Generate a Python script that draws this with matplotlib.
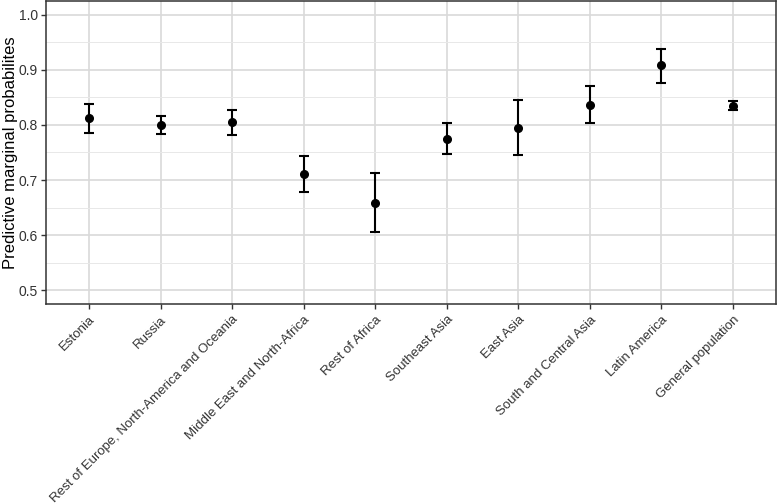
import numpy as np
import matplotlib
matplotlib.use("Agg")
import matplotlib.pyplot as plt

regions = ["Estonia", "Russia", "Rest of Europe, North-America and Oceania",
           "Middle East and North-Africa", "Rest of Africa", "Southeast Asia",
           "East Asia", "South and Central Asia", "Latin America", "General population"]
prob = [0.812, 0.800, 0.806, 0.711, 0.659, 0.775, 0.795, 0.837, 0.908, 0.835]
lower = [0.785, 0.784, 0.782, 0.679, 0.605, 0.748, 0.745, 0.803, 0.877, 0.827]
upper = [0.838, 0.816, 0.828, 0.743, 0.713, 0.803, 0.845, 0.871, 0.937, 0.844]

plt.rcParams['font.family'] = ['Liberation Sans', 'DejaVu Sans']

fig = plt.figure(figsize=(7.77, 5.04), dpi=100)
ax = fig.add_axes([46 / 777, 1 - 304 / 504, 730 / 777, 303 / 504])

x = np.arange(len(regions))
prob = np.array(prob)
err = [prob - np.array(lower), np.array(upper) - prob]
ax.errorbar(x, prob, yerr=err, fmt='o', color='black', ms=5.5,
            elinewidth=1.5, capsize=3.5, capthick=1.5, zorder=3)

ax.set_xlim(-0.6, len(regions) - 0.4)
ax.set_ylim(0.475, 1.025)
ax.set_yticks([0.5, 0.6, 0.7, 0.8, 0.9, 1.0])
ax.set_yticks([0.55, 0.65, 0.75, 0.85, 0.95], minor=True)
ax.set_xticks(x)
ax.set_xticklabels(regions, rotation=45, ha='right', rotation_mode='anchor',
                   fontsize=9.5, color='#333333')
ax.tick_params(axis='y', labelsize=10, labelcolor='#333333', pad=2.5)
ax.tick_params(axis='both', which='major', length=3.5, width=1, color='#333333')
ax.tick_params(axis='y', which='minor', length=0)

ax.grid(which='major', color='#d9d9d9', linewidth=1.2, zorder=0)
ax.grid(which='minor', axis='y', color='#e8e8e8', linewidth=0.7, zorder=0)
ax.set_axisbelow(True)
for s in ax.spines.values():
    s.set_color('#333333')
    s.set_linewidth(1.1)

ax.set_ylabel('Predictive marginal probabilites', fontsize=12)
ax.yaxis.set_label_coords(-28 / 730, 0.5)

fig.savefig('out.png', dpi=100)
